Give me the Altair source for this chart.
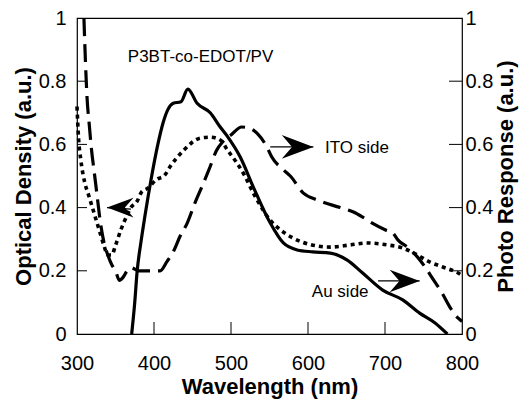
import altair as alt
import pandas as pd

FONT = "Liberation Sans"

# ---- data ----
x_domain = [300, 800]
y_domain = [0, 1]
x_tick_values = [300, 400, 500, 600, 700, 800]
x_inner_ticks = [400, 500, 600, 700]
y_tick_values = [0, 0.2, 0.4, 0.6, 0.8, 1]
y_inner_ticks = [0.2, 0.4, 0.6, 0.8]

# Optical density (dotted, left axis)
dot_x = [300, 302, 305, 310, 315, 320, 325, 330, 335, 340, 345, 350, 357, 364, 370,
         378, 384, 391, 404, 413, 421, 438, 460, 473, 486, 496, 508, 518, 529, 534,
         551, 564, 581, 603, 629, 655, 677, 703, 723, 742, 758, 775, 795, 800]
dot_y = [0.72, 0.62, 0.55, 0.48, 0.44, 0.40, 0.36, 0.32, 0.28, 0.25, 0.25, 0.28, 0.33, 0.37, 0.40,
         0.42, 0.45, 0.46, 0.49, 0.50, 0.53, 0.58, 0.62, 0.623, 0.614, 0.58, 0.54, 0.50, 0.446, 0.424,
         0.36, 0.33, 0.303, 0.283, 0.275, 0.282, 0.288, 0.282, 0.272, 0.25, 0.228, 0.212, 0.193, 0.185]

# Photo response, ITO side (long dash, right axis)
dash_x = [309, 311, 313, 316, 319, 322, 326, 330, 335, 340, 345, 350, 355, 360, 365, 370,
          380, 395, 408, 417, 425, 434, 443, 454, 462, 473, 481, 490, 500, 514, 525, 534,
          547, 553, 568, 577, 594, 612, 642, 659, 671, 684, 700, 710, 717, 729, 742, 752,
          763, 774, 784, 795, 800]
dash_y = [1.0, 0.86, 0.75, 0.66, 0.58, 0.52, 0.44, 0.36, 0.29, 0.25, 0.22, 0.20, 0.17, 0.18, 0.20, 0.21,
          0.20, 0.20, 0.20, 0.23, 0.26, 0.31, 0.35, 0.42, 0.465, 0.53, 0.58, 0.61, 0.63, 0.655, 0.65, 0.635,
          0.59, 0.56, 0.52, 0.50, 0.446, 0.424, 0.40, 0.386, 0.37, 0.35, 0.33, 0.32, 0.297, 0.275, 0.244, 0.212,
          0.171, 0.13, 0.086, 0.05, 0.04]

# Photo response, Au side (solid, right axis)
sol_x = [371, 375, 378, 383, 388, 397, 405, 412, 418, 425, 435, 444, 456, 473, 486, 496,
         512, 529, 551, 568, 586, 606, 629, 651, 671, 697, 723, 745, 765, 781]
sol_y = [0.0, 0.1, 0.196, 0.29, 0.37, 0.50, 0.60, 0.67, 0.71, 0.73, 0.735, 0.775, 0.73, 0.70, 0.655, 0.623,
         0.56, 0.465, 0.351, 0.288, 0.266, 0.26, 0.256, 0.234, 0.193, 0.139, 0.108, 0.066, 0.035, 0.0]

# annotations
note_text = ["P3BT-co-EDOT/PV", "ITO side", "Au side"]
note_x = [366, 622, 605]
note_y = [0.861, 0.573, 0.117]

arrow_x0 = [551, 691, 370]
arrow_x1 = [607, 745, 339]
arrow_y0 = [0.592, 0.168, 0.395]
arrow_y1 = [0.592, 0.168, 0.40]
arrow_angle = [0, 0, 180]
arrow_size = [1000, 900, 700]

# ---- tables ----
dot_df = pd.DataFrame({"x": dot_x, "y": dot_y})
dash_df = pd.DataFrame({"x": dash_x, "y": dash_y})
sol_df = pd.DataFrame({"x": sol_x, "y": sol_y})
note_df = pd.DataFrame({"t": note_text, "x": note_x, "y": note_y})
arrow_df = pd.DataFrame({"x": arrow_x0, "x2": arrow_x1, "y": arrow_y0, "y2": arrow_y1,
                         "angle": arrow_angle, "size": arrow_size})
lt_df = pd.DataFrame({"x": [x_domain[0]] * len(y_inner_ticks), "y": y_inner_ticks})
rt_df = pd.DataFrame({"x": [x_domain[1]] * len(y_inner_ticks), "y": y_inner_ticks})
bt_df = pd.DataFrame({"x": x_inner_ticks, "y": [y_domain[0]] * len(x_inner_ticks)})

x_scale = alt.Scale(domain=x_domain, nice=False, zero=False)
y_scale = alt.Scale(domain=y_domain, nice=False, zero=False)

x_axis = alt.Axis(values=x_tick_values, tickSize=0, domain=False, grid=False, labelFlush=False,
                  labelPadding=19, labelFontSize=20, labelFont=FONT, labelColor="black",
                  title="Wavelength (nm)", titleFontSize=22, titleFontWeight="bold",
                  titleFont=FONT, titleColor="black", titlePadding=3, format="d")
X = alt.X("x:Q", scale=x_scale, axis=x_axis)

left_axis = alt.Axis(values=y_tick_values, tickSize=0, domain=False, grid=False, format="~g",
                     labelFlush=False,
                     labelPadding=11, labelFontSize=20, labelFont=FONT, labelColor="black",
                     title="Optical Density (a.u.)", titleFontSize=22, titleFontWeight="bold",
                     titleFont=FONT, titleColor="black", titlePadding=3)
right_axis = alt.Axis(orient="right", values=y_tick_values, tickSize=0, domain=False, grid=False,
                      format="~g", labelFlush=False, labelPadding=3, labelFontSize=20, labelFont=FONT,
                      labelColor="black", title="Photo Response (a.u.)", titleFontSize=22,
                      titleFontWeight="bold", titleFont=FONT, titleColor="black",
                      titlePadding=3, titleAngle=270, titleBaseline="top")
YL = alt.Y("y:Q", scale=y_scale, axis=left_axis)
YR = alt.Y("y:Q", scale=y_scale, axis=right_axis)

dotted = alt.Chart(dot_df).mark_line(color="black", strokeWidth=3.6, strokeDash=[4, 4],
                                     interpolate="monotone").encode(x=X, y=YL, order="x:Q")

left_ticks = alt.Chart(lt_df).mark_rule(color="black", strokeWidth=1, x2Offset=10).encode(
    x=X, x2="x:Q", y=YL)
right_ticks = alt.Chart(rt_df).mark_rule(color="black", strokeWidth=1, x2Offset=-13).encode(
    x=X, x2="x:Q", y=YL)
bottom_ticks = alt.Chart(bt_df).mark_rule(color="black", strokeWidth=1, y2Offset=-12).encode(
    x=X, y=YL, y2="y:Q")

notes = alt.Chart(note_df).mark_text(align="left", baseline="alphabetic", fontSize=17,
                                     font=FONT, color="black").encode(x=X, y=YL, text="t:N")

arrow_lines = alt.Chart(arrow_df).mark_rule(color="black", strokeWidth=1.2).encode(
    x=X, x2="x2:Q", y=YL, y2="y2:Q")
arrow_heads = alt.Chart(arrow_df).mark_point(
    shape="M0,0 L-2,-0.75 L-1.35,0 L-2,0.75 Z", filled=True, color="black", opacity=1,
    strokeWidth=0).encode(
    x=alt.X("x2:Q", scale=x_scale, axis=x_axis),
    y=alt.Y("y2:Q", scale=y_scale, axis=left_axis),
    angle=alt.Angle("angle:Q", scale=None),
    size=alt.Size("size:Q", scale=None))

left_group = alt.layer(dotted, left_ticks, right_ticks, bottom_ticks, notes, arrow_lines, arrow_heads)

dashed = alt.Chart(dash_df).mark_line(color="black", strokeWidth=3.2, strokeDash=[18, 8],
                                      interpolate="monotone").encode(x=X, y=YR, order="x:Q")
solid = alt.Chart(sol_df).mark_line(color="black", strokeWidth=3.2,
                                    interpolate="monotone").encode(x=X, y=YR, order="x:Q")
right_group = alt.layer(dashed, solid)

chart = alt.layer(left_group, right_group).resolve_scale(y="independent").properties(
    width=385, height=316,
    autosize=alt.AutoSizeParams(type="none"),
    padding={"left": 77, "top": 18, "right": 58, "bottom": 66},
    background="white",
).configure_view(stroke="black", strokeWidth=1.2)

chart.save("out.html", embed_options={"renderer": "svg", "actions": False})
